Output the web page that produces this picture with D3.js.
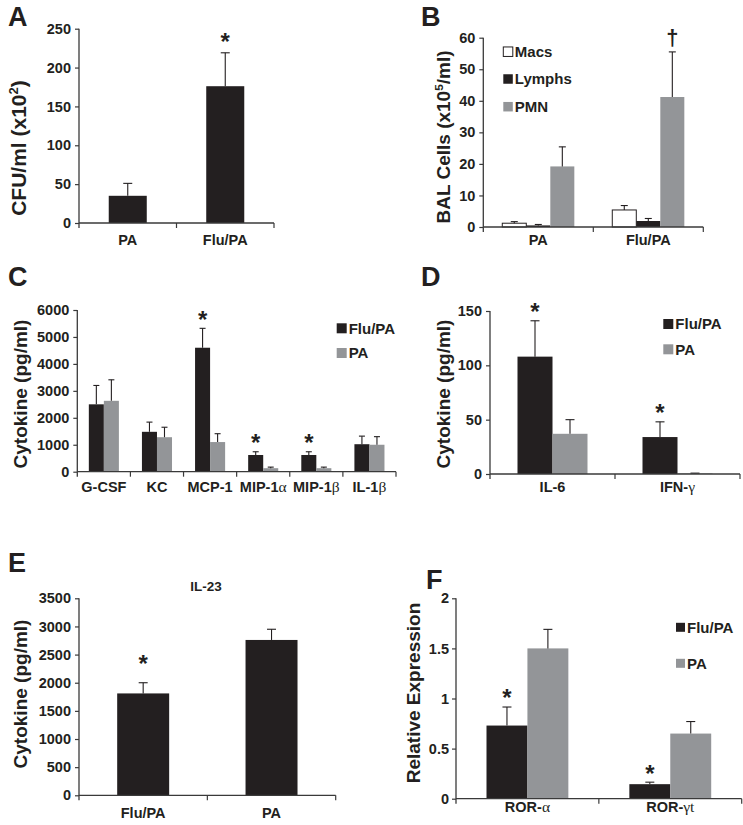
<!DOCTYPE html>
<html><head><meta charset="utf-8">
<script src="https://cdn.jsdelivr.net/npm/d3@7"></script>
<style>
body{margin:0;background:#fff}
text{font-family:"Liberation Sans",Arial,Helvetica,sans-serif;font-weight:bold;fill:#231f20}
</style>
</head><body>
<svg id="chart" width="743" height="825"></svg>
<script>
// ---------- DATA ----------
const aCategories = ["PA", "Flu/PA"];
const aValues = [35, 176];
const aErrors = [16, 43];
const aMarks = ["", "*"];
const aTicks = [0, 50, 100, 150, 200, 250];

const bCategories = ["PA", "Flu/PA"];
const bSeriesNames = ["Macs", "Lymphs", "PMN"];
const bMacs = [1.2, 5.4];
const bMacsErr = [0.5, 1.4];
const bLymphs = [0.5, 1.9];
const bLymphsErr = [0.3, 0.8];
const bPMN = [19.2, 41.2];
const bPMNErr = [6.2, 14.3];
const bMarks = ["", "†"];
const bTicks = [0, 10, 20, 30, 40, 50, 60];

const cCategories = ["G-CSF", "KC", "MCP-1", "MIP-1α", "MIP-1β", "IL-1β"];
const cSeriesNames = ["Flu/PA", "PA"];
const cFluPA = [2500, 1480, 4600, 620, 620, 1020];
const cFluPAErr = [700, 360, 720, 120, 120, 300];
const cPA = [2630, 1280, 1100, 130, 130, 1000];
const cPAErr = [780, 370, 310, 40, 40, 300];
const cMarks = ["", "", "*", "*", "*", ""];
const cTicks = [0, 1000, 2000, 3000, 4000, 5000, 6000];

const dCategories = ["IL-6", "IFN-γ"];
const dSeriesNames = ["Flu/PA", "PA"];
const dFluPA = [108, 34];
const dFluPAErr = [33, 14];
const dPA = [37, 0.5];
const dPAErr = [13, 0.3];
const dMarks = ["*", "*"];
const dTicks = [0, 50, 100, 150];

const eCategories = ["Flu/PA", "PA"];
const eValues = [1810, 2760];
const eErrors = [190, 190];
const eMarks = ["*", ""];
const eTicks = [0, 500, 1000, 1500, 2000, 2500, 3000, 3500];
const eTitle = "IL-23";

const fCategories = ["ROR-α", "ROR-γt"];
const fSeriesNames = ["Flu/PA", "PA"];
const fFluPA = [0.73, 0.145];
const fFluPAErr = [0.185, 0.02];
const fPA = [1.50, 0.65];
const fPAErr = [0.19, 0.12];
const fMarks = ["*", "*"];
const fTicks = [0, 0.5, 1, 1.5, 2];

// ---------- STYLE ----------
const BLACK = "#231f20", GREY = "#939598", AXIS = "#3a3a3a";
const svg = d3.select("#chart");
svg.append("rect").attr("width", 743).attr("height", 825).attr("fill", "#fff");

function addLabel(sel, txt, fs) {
  // splits off a Greek tail drawn in a serif normal face
  const m = txt.search(/[\u0370-\u03ff]/);
  if (m < 0) { sel.text(txt); return; }
  sel.append("tspan").text(txt.slice(0, m));
  sel.append("tspan").text(txt.slice(m))
    .style("font-family", "'Liberation Serif','Times New Roman',serif")
    .style("font-weight", "normal").style("font-size", (fs + 1) + "px");
}

function drawPanel(cfg) {
  const g = svg.append("g");
  const y = d3.scaleLinear().domain([0, cfg.max]).range([cfg.yBottom, cfg.yTop]);
  const x = d3.scaleBand().domain(cfg.categories).range([cfg.x0, cfg.x1]).padding(0);
  const groupW = x.bandwidth() * cfg.frac;
  const xs = d3.scaleBand().domain(cfg.series.map(s => s.name)).range([0, groupW]).padding(0);
  const bx = (c, s) => x(c) + x.bandwidth() / 2 - groupW / 2 + xs(s.name);

  cfg.series.forEach(s => {
    g.append("g").selectAll("rect").data(cfg.categories).enter().append("rect")
      .attr("x", c => bx(c, s))
      .attr("y", (c, i) => y(s.values[i]))
      .attr("width", xs.bandwidth())
      .attr("height", (c, i) => cfg.yBottom - y(s.values[i]))
      .attr("fill", s.color)
      .attr("stroke", s.stroke || "none").attr("stroke-width", 1);
    const eg = g.append("g").attr("stroke", BLACK).attr("stroke-width", 1.1);
    cfg.categories.forEach((c, i) => {
      const cx = bx(c, s) + xs.bandwidth() / 2;
      const yt = y(s.values[i] + s.errors[i]);
      eg.append("line").attr("x1", cx).attr("x2", cx).attr("y1", y(s.values[i])).attr("y2", yt);
      eg.append("line").attr("x1", cx - cfg.cap / 2).attr("x2", cx + cfg.cap / 2).attr("y1", yt).attr("y2", yt);
    });
  });

  // significance marks
  const ms = cfg.series[cfg.markSeries];
  cfg.marks.forEach((mk, i) => {
    if (!mk) return;
    const c = cfg.categories[i];
    const cx = bx(c, ms) + xs.bandwidth() / 2;
    const cy = y(ms.values[i] + ms.errors[i]) - cfg.markOffset;
    const shift = mk === "*" ? 0.6 : 0.3;
    g.append("text").attr("x", cx).attr("y", cy + shift * cfg.markSize)
      .attr("text-anchor", "middle").style("font-size", cfg.markSize + "px").text(mk);
  });

  // y axis
  const ya = d3.axisLeft(y).tickValues(cfg.ticks).tickSize(4).tickPadding(cfg.tickPad || 4).tickSizeOuter(0)
    .tickFormat(d3.format(""));
  const yg = g.append("g").attr("transform", `translate(${cfg.x0},0)`).call(ya);
  yg.select(".domain").remove();
  yg.selectAll("line").attr("stroke", AXIS).attr("stroke-width", 1.2);
  yg.selectAll("text").attr("fill", BLACK).style("font-size", "14.5px")
    .style("font-family", "'Liberation Sans',Arial,sans-serif").style("font-weight", "bold");
  g.append("line").attr("x1", cfg.x0).attr("x2", cfg.x0).attr("y1", cfg.yTop).attr("y2", cfg.yBottom + 5)
    .attr("stroke", AXIS).attr("stroke-width", 1.3);

  // x axis
  g.append("line").attr("x1", cfg.x0).attr("x2", cfg.x1).attr("y1", cfg.yBottom).attr("y2", cfg.yBottom)
    .attr("stroke", AXIS).attr("stroke-width", 1.3);
  const bounds = cfg.categories.map(c => x(c)).concat([cfg.x1]).slice(1);
  g.append("g").selectAll("line").data(bounds).enter().append("line")
    .attr("x1", d => d).attr("x2", d => d).attr("y1", cfg.yBottom).attr("y2", cfg.yBottom + 5)
    .attr("stroke", AXIS).attr("stroke-width", 1.2);
  cfg.categories.forEach(c => {
    const t = g.append("text").attr("x", x(c) + x.bandwidth() / 2).attr("y", cfg.labelY)
      .attr("text-anchor", "middle").style("font-size", "14.5px");
    addLabel(t, c, 14.5);
  });

  // y title
  const yt = g.append("text")
    .attr("transform", `translate(${cfg.titleX},${cfg.titleY}) rotate(-90)`)
    .attr("text-anchor", "middle").style("font-size", cfg.titleSize + "px");
  cfg.yTitle.forEach(p => {
    const ts = yt.append("tspan").text(p.t);
    if (p.sup) ts.attr("dy", -cfg.titleSize * 0.38).style("font-size", (cfg.titleSize * 0.62) + "px");
    if (p.after) ts.attr("dy", cfg.titleSize * 0.38);
  });

  // panel letter
  g.append("text").attr("x", cfg.letterX).attr("y", cfg.letterY).style("font-size", "27px").text(cfg.letter);

  // legend
  if (cfg.legend) {
    const L = cfg.legend;
    cfg.series.forEach((s, i) => {
      const cy = L.rows[i];
      g.append("rect").attr("x", L.x).attr("y", cy - L.size / 2).attr("width", L.size).attr("height", L.size)
        .attr("fill", s.color).attr("stroke", s.stroke || "none").attr("stroke-width", 1);
      g.append("text").attr("x", L.x + L.size + 2).attr("y", cy + 5.3).style("font-size", "15px").text(s.name);
    });
  }
  if (cfg.title) {
    g.append("text").attr("x", cfg.title.x).attr("y", cfg.title.y).attr("text-anchor", "middle")
      .style("font-size", "13.5px").text(cfg.title.text);
  }
}

// ---------- PANELS ----------
drawPanel({
  letter: "A", letterX: 8, letterY: 26,
  categories: aCategories, ticks: aTicks, max: 250,
  series: [{ name: "CFU", values: aValues, errors: aErrors, color: BLACK }],
  marks: aMarks, markSeries: 0, markOffset: 17, markSize: 24,
  x0: 79, x1: 274, yBottom: 223, yTop: 28.7, frac: 0.39, cap: 9, labelY: 245,
  yTitle: [{ t: "CFU/ml (x10" }, { t: "2", sup: true }, { t: ")", after: true }],
  titleX: 26, titleY: 148, titleSize: 21
});

drawPanel({
  letter: "B", letterX: 421, letterY: 26,
  categories: bCategories, ticks: bTicks, max: 60,
  series: [
    { name: bSeriesNames[0], values: bMacs, errors: bMacsErr, color: "#ffffff", stroke: BLACK },
    { name: bSeriesNames[1], values: bLymphs, errors: bLymphsErr, color: BLACK },
    { name: bSeriesNames[2], values: bPMN, errors: bPMNErr, color: GREY }
  ],
  marks: bMarks, markSeries: 2, markOffset: 13, markSize: 22,
  x0: 483.3, x1: 703.3, yBottom: 227, yTop: 37.7, frac: 0.655, cap: 7, labelY: 245,
  yTitle: [{ t: "BAL Cells (x10" }, { t: "5", sup: true }, { t: "/ml)", after: true }],
  titleX: 450, titleY: 137, titleSize: 19,
  legend: { x: 503.3, size: 9.5, rows: [51.7, 79, 106.7] }
});

drawPanel({
  letter: "C", letterX: 8, letterY: 286,
  categories: cCategories, ticks: cTicks, max: 6000,
  series: [
    { name: cSeriesNames[0], values: cFluPA, errors: cFluPAErr, color: BLACK },
    { name: cSeriesNames[1], values: cPA, errors: cPAErr, color: GREY }
  ],
  marks: cMarks, markSeries: 0, markOffset: 15, markSize: 24,
  x0: 77.3, x1: 396, yBottom: 471.7, yTop: 310, frac: 0.566, cap: 6, labelY: 492,
  yTitle: [{ t: "Cytokine (pg/ml)" }],
  titleX: 27, titleY: 394, titleSize: 19,
  legend: { x: 336.7, size: 10, rows: [328.3, 353] }
});

drawPanel({
  letter: "D", letterX: 421, letterY: 286,
  categories: dCategories, ticks: dTicks, max: 150,
  series: [
    { name: dSeriesNames[0], values: dFluPA, errors: dFluPAErr, color: BLACK },
    { name: dSeriesNames[1], values: dPA, errors: dPAErr, color: GREY }
  ],
  marks: dMarks, markSeries: 0, markOffset: 15, markSize: 24,
  x0: 490, x1: 740, yBottom: 474, yTop: 311, frac: 0.56, cap: 9, labelY: 492,
  yTitle: [{ t: "Cytokine (pg/ml)" }],
  titleX: 450, titleY: 394, titleSize: 19,
  legend: { x: 663.3, size: 10, rows: [324, 349.3] }
});

drawPanel({
  letter: "E", letterX: 8, letterY: 572,
  categories: eCategories, ticks: eTicks, max: 3500,
  series: [{ name: "IL-23", values: eValues, errors: eErrors, color: BLACK }],
  marks: eMarks, markSeries: 0, markOffset: 25, markSize: 24,
  x0: 79, x1: 335.7, yBottom: 795.3, yTop: 598.3, frac: 0.405, cap: 9, labelY: 818,
  yTitle: [{ t: "Cytokine (pg/ml)" }],
  titleX: 27, titleY: 694, titleSize: 19,
  title: { text: eTitle, x: 206, y: 591 }
});

drawPanel({
  letter: "F", letterX: 426, letterY: 589,
  categories: fCategories, ticks: fTicks, max: 2,
  series: [
    { name: fSeriesNames[0], values: fFluPA, errors: fFluPAErr, color: BLACK },
    { name: fSeriesNames[1], values: fPA, errors: fPAErr, color: GREY }
  ],
  marks: fMarks, markSeries: 0, markOffset: 15, markSize: 24,
  x0: 456, x1: 741.7, yBottom: 798.7, yTop: 598.3, frac: 0.573, cap: 9, labelY: 812, tickPad: 3,
  yTitle: [{ t: "Relative Expression" }],
  titleX: 420, titleY: 693, titleSize: 19,
  legend: { x: 676, size: 9, rows: [627.3, 663.3] }
});
</script>
</body></html>
